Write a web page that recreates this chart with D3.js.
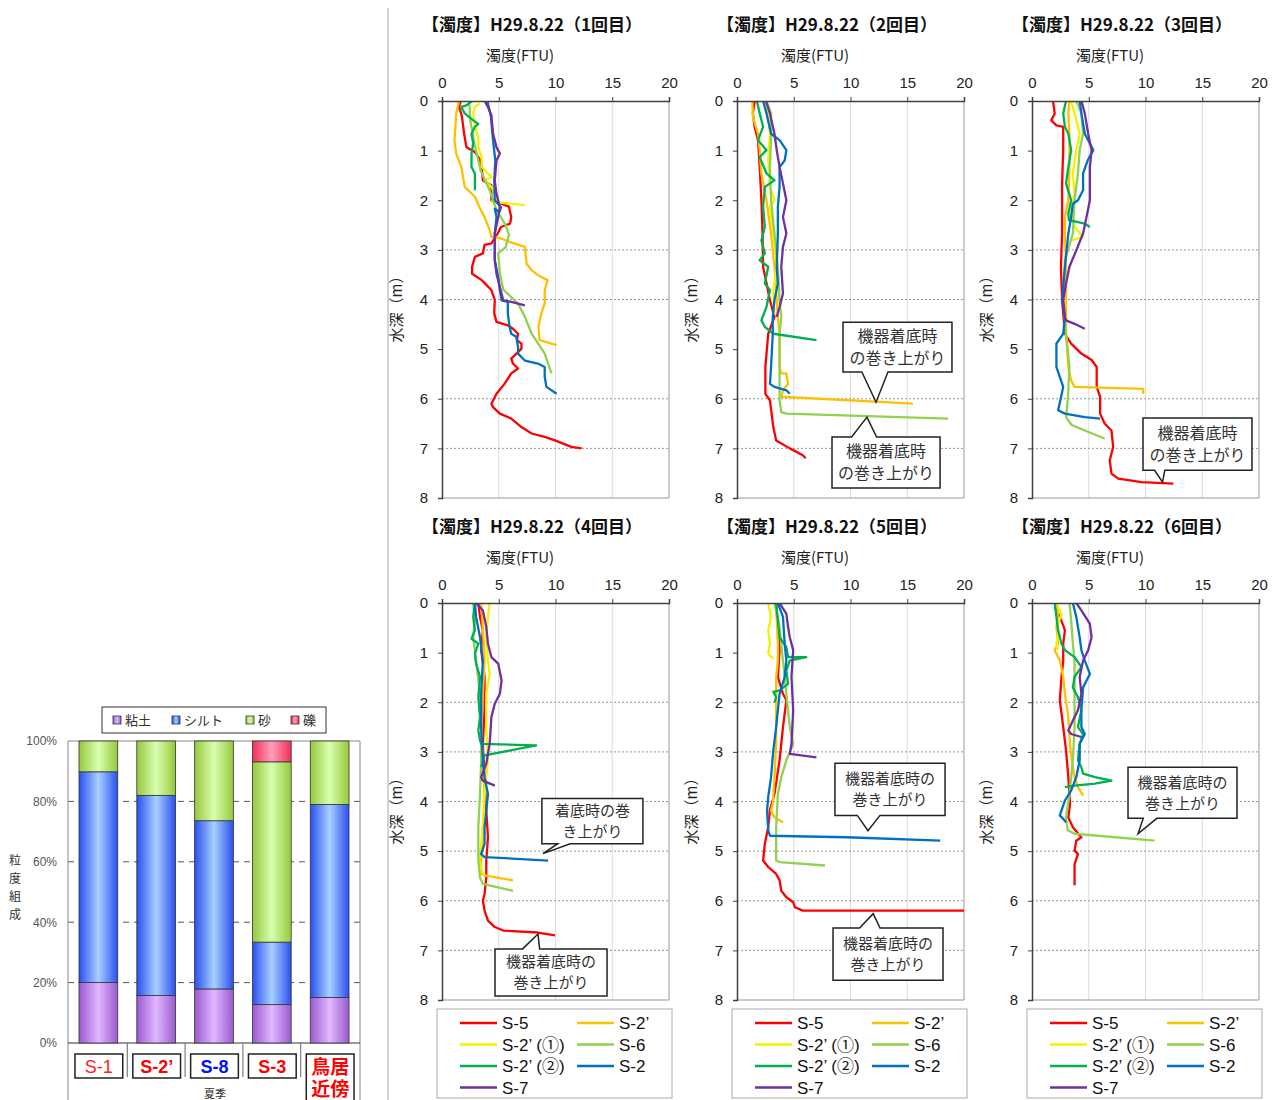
<!DOCTYPE html>
<html lang="ja">
<head>
<meta charset="UTF-8">
<title>濁度鉛直分布と粒度組成</title>
<script src="https://d3js.org/d3.v7.min.js"></script>
<style>
  body { margin: 0; background: #fff; }
  text { font-family: "Liberation Sans", Arial, "Noto Sans CJK JP", sans-serif; }
  .jp { font-family: "Noto Sans CJK JP", sans-serif; }
</style>
</head>
<body>
<div id="chart"></div>
<script>
// ---- grain size composition (left chart) ----
var grainCats = ["S-1", "S-2’", "S-8", "S-3", "鳥居近傍"];
var clay   = [20.0, 15.7, 17.9, 12.7, 15.1];
var silt   = [69.8, 66.3, 55.7, 20.7, 63.9];
var sand   = [10.2, 18.0, 26.4, 59.7, 21.0];
var gravel = [0, 0, 0, 6.9, 0];
var grainNames = ["粘土", "シルト", "砂", "礫"];
var grainTicks = [0, 20, 40, 60, 80, 100];

// ---- turbidity profiles: [turbidity FTU, depth m] ----
var turbTicks = [0, 5, 10, 15, 20];
var depthTicks = [0, 1, 2, 3, 4, 5, 6, 7, 8];
var seriesNames = ["S-5", "S-2’", "S-2’ (①)", "S-6", "S-2’ (②)", "S-2", "S-7"];
var seriesColors = ["#ff0000", "#ffc000", "#f2f200", "#92d050", "#00b050", "#0070c0", "#7030a0"];
var runTitles = ["【濁度】H29.8.22（1回目）", "【濁度】H29.8.22（2回目）", "【濁度】H29.8.22（3回目）",
                 "【濁度】H29.8.22（4回目）", "【濁度】H29.8.22（5回目）", "【濁度】H29.8.22（6回目）"];

// run 1
var r1_S5 = [[1.65,0],[1.5,0.12],[1.75,0.3],[1.95,0.66],[2.15,0.93],[2.9,1.03],[3.3,1.16],[3.5,1.33],[3.6,1.6],[4.35,1.7],[4.35,2.0],[5.2,2.07],[5.9,2.13],[6.1,2.34],[6.0,2.47],[5.2,2.54],[4.9,2.67],[4.35,2.87],[3.75,2.9],[3.6,3.07],[2.9,3.14],[2.65,3.34],[2.65,3.48],[3.5,3.61],[4.35,3.81],[4.65,4.01],[4.6,4.28],[4.8,4.45],[5.8,4.52],[6.25,4.59],[6.7,4.69],[6.6,4.82],[7.0,4.89],[7.0,4.99],[6.7,5.06],[6.1,5.19],[6.25,5.29],[6.7,5.39],[6.1,5.49],[5.5,5.7],[4.8,5.9],[4.35,6.1],[4.5,6.17],[5.1,6.3],[6.1,6.4],[7.0,6.57],[7.9,6.7],[9.05,6.77],[9.95,6.84],[11.4,6.97],[12.3,7.0]];
var r1_S2d = [[1.5,0],[1.25,0.25],[1.1,0.8],[1.25,1.06],[1.7,1.33],[2.0,1.73],[2.9,1.93],[3.3,2.14],[3.75,2.34],[4.2,2.6],[4.35,2.74],[5.2,2.77],[5.95,2.84],[7.3,2.94],[7.45,3.28],[7.9,3.41],[8.45,3.51],[9.3,3.61],[9.05,3.81],[9.05,4.08],[8.75,4.28],[8.5,4.55],[8.6,4.82],[10.1,4.92]];
var r1_S2d1 = [[3.3,0.05],[2.9,0.12],[2.75,0.25],[2.9,0.52],[3.2,0.73],[3.2,0.93],[3.5,1.13],[3.5,1.33],[4.05,1.46],[4.35,1.53],[3.75,1.6],[4.35,1.73],[4.65,1.87],[4.95,2.0],[4.35,2.03],[7.3,2.1]];
var r1_S6 = [[2.4,0],[2.5,0.4],[2.9,0.9],[3.4,1.4],[4.2,1.8],[4.8,2.2],[5.6,2.5],[5.9,2.7],[5.6,2.95],[4.95,3.07],[5.1,3.48],[5.4,3.8],[6.7,4.08],[7.3,4.35],[7.9,4.69],[9.05,5.09],[9.35,5.29],[9.65,5.49]];
var r1_S2d2 = [[2.65,0],[2.15,0.09],[1.7,0.12],[2.0,0.25],[2.75,0.39],[3.2,0.46],[2.9,0.52],[2.6,0.66],[2.75,0.86],[2.6,1.06],[2.6,1.33],[2.9,1.46],[2.9,1.8]];
var r1_S2 = [[4.0,0],[4.3,0.3],[4.5,0.8],[4.7,1.2],[4.6,1.6],[4.65,2.0],[5.2,2.14],[5.05,2.24],[4.65,2.17],[4.8,2.34],[4.65,2.67],[4.65,3.21],[4.95,3.55],[5.1,3.81],[5.25,4.02],[5.8,4.05],[5.8,4.28],[5.95,4.55],[6.1,4.69],[6.55,4.75],[6.7,4.96],[6.7,5.09],[7.3,5.23],[8.45,5.29],[9.05,5.36],[9.05,5.56],[9.2,5.76],[10.1,5.9]];
var r1_S7 = [[3.75,0],[4.05,0.12],[4.35,0.29],[4.5,0.66],[4.8,0.93],[5.1,1.06],[4.8,1.2],[4.65,1.6],[4.8,1.87],[5.1,2.14],[4.95,2.34],[4.65,2.67],[4.65,3.21],[4.8,3.48],[5.1,3.75],[5.4,4.02],[6.1,4.05],[7.3,4.12]];

// run 2
var r2_S5 = [[1.55,0],[1.4,0.25],[1.55,0.52],[1.85,0.79],[2.0,1.33],[2.15,2.0],[2.25,2.67],[2.3,3.34],[2.9,4.01],[3.3,4.35],[2.75,4.69],[2.5,5.36],[2.5,5.9],[2.9,6.03],[3.2,6.57],[3.45,6.84],[4.65,7.0],[5.8,7.14],[6.05,7.2]];
var r2_S2d = [[1.35,0],[1.4,0.32],[1.85,0.66],[2.0,0.99],[2.15,1.46],[2.6,2.0],[3.0,2.67],[3.3,3.34],[3.5,4.01],[3.6,4.35],[3.75,4.69],[3.75,5.36],[3.9,5.49],[4.35,5.49],[4.5,5.7],[4.05,5.83],[3.9,5.96],[15.5,6.1]];
var r2_S2d1 = [[2.45,0],[2.75,0.25],[2.9,0.66],[2.75,1.2],[2.9,1.73],[3.3,2.0],[2.9,2.14],[3.2,2.67],[3.5,3.34],[3.2,3.81],[3.3,4.3]];
var r2_S6 = [[2.6,0],[3.0,0.25],[3.0,0.79],[2.9,1.33],[3.0,2.0],[3.3,2.67],[3.6,3.34],[3.75,4.01],[3.9,4.35],[3.75,4.69],[3.75,5.36],[3.75,6.03],[3.9,6.27],[4.35,6.3],[18.6,6.4]];
var r2_S2d2 = [[1.75,0],[2.0,0.25],[2.3,0.52],[1.85,0.79],[2.6,0.99],[2.0,1.13],[2.6,1.46],[3.3,1.6],[2.45,1.73],[2.3,2.14],[2.45,2.54],[2.15,2.81],[2.45,3.07],[2.0,3.21],[2.75,3.34],[2.45,3.68],[2.9,3.81],[2.6,4.15],[2.15,4.42],[2.45,4.55],[3.2,4.69],[7.0,4.82]];
var r2_S2 = [[2.3,0],[2.6,0.25],[3.0,0.66],[3.75,0.79],[4.35,0.99],[4.2,1.2],[3.75,1.33],[3.75,1.73],[3.6,2.14],[3.6,2.67],[3.5,3.34],[3.6,3.68],[3.3,4.01],[3.15,4.35],[3.15,4.69],[3.0,5.36],[2.9,5.7],[3.3,5.76],[4.35,5.83],[4.65,5.9]];
var r2_S7 = [[2.55,0],[2.9,0.25],[3.3,0.66],[3.5,0.99],[3.75,1.33],[4.05,1.66],[4.35,2.0],[4.05,2.34],[4.35,2.67],[4.05,2.94],[3.9,3.34],[4.05,3.88],[3.75,4.15],[3.5,4.35]];

// run 3
var r3_S5 = [[1.85,0],[2.0,0.25],[1.7,0.39],[2.15,0.49],[2.75,0.52],[2.75,0.99],[2.65,1.66],[2.65,2.67],[2.55,3.34],[2.65,4.01],[2.9,4.69],[3.45,4.89],[4.35,5.09],[5.25,5.22],[5.7,5.36],[5.7,5.76],[6.0,5.96],[6.0,6.3],[6.4,6.5],[7.0,6.64],[7.15,6.97],[6.85,7.24],[7.0,7.51],[7.6,7.61],[9.65,7.68],[12.45,7.71]];
var r3_S2d = [[3.3,0],[3.2,0.25],[3.3,0.66],[3.3,1.33],[3.2,2.0],[2.9,2.34],[2.9,2.67],[3.0,3.34],[3.0,4.01],[3.0,4.69],[3.2,5.36],[3.45,5.63],[3.75,5.76],[9.8,5.8],[9.8,5.9]];
var r3_S2d1 = [[3.45,0],[3.75,0.25],[4.2,0.66],[3.9,0.99],[3.6,1.46],[3.75,1.87],[3.45,2.27],[3.75,2.54],[4.5,2.74],[3.45,2.81]];
var r3_S6 = [[3.9,0],[4.35,0.25],[4.5,0.66],[4.2,0.99],[4.05,1.46],[3.75,2.0],[3.6,2.67],[2.9,3.21],[2.75,4.01],[3.0,4.69],[3.3,5.36],[3.15,6.03],[3.0,6.37],[3.5,6.53],[4.65,6.64],[6.4,6.8]];
var r3_S2d2 = [[3.0,0],[2.75,0.25],[2.9,0.52],[3.2,0.66],[3.45,0.99],[3.2,1.33],[3.0,1.66],[3.45,2.0],[3.2,2.27],[3.25,2.4],[4.65,2.47],[5.1,2.54]];
var r3_S2 = [[4.2,0],[4.35,0.25],[4.65,0.66],[5.4,0.99],[4.9,1.2],[4.5,1.46],[4.5,1.8],[4.05,2.0],[3.6,2.07],[3.45,2.34],[3.2,2.67],[2.9,3.34],[2.65,4.01],[2.9,4.35],[2.75,4.69],[2.15,4.89],[2.15,5.36],[2.75,5.76],[2.5,6.03],[2.3,6.23],[2.9,6.3],[4.65,6.37],[6.0,6.4]];
var r3_S7 = [[4.35,0],[4.65,0.25],[4.95,0.66],[5.25,0.99],[5.1,1.33],[5.1,2.0],[4.8,2.34],[4.5,2.67],[3.9,3.01],[3.3,3.34],[3.0,3.68],[2.75,4.01],[2.9,4.35],[3.0,4.42],[3.75,4.49],[4.65,4.59]];

// run 4
var r4_S5 = [[3.2,0],[3.35,0.28],[3.6,0.55],[3.45,0.95],[3.75,1.49],[3.75,2.16],[3.6,2.84],[3.75,3.51],[3.9,4.18],[4.05,4.72],[3.9,5.19],[3.9,5.53],[3.75,5.86],[3.6,6.0],[3.75,6.2],[4.05,6.4],[4.65,6.53],[5.4,6.6],[8.45,6.64],[9.95,6.7]];
var r4_S2d = [[3.45,0],[3.6,0.48],[3.75,1.16],[3.6,1.83],[3.45,2.5],[3.6,3.17],[3.75,3.85],[3.6,4.52],[3.45,5.19],[3.45,5.46],[3.75,5.49],[6.25,5.59]];
var r4_S2d1 = [[4.2,0],[4.05,0.28],[3.9,0.69],[4.05,1.16],[4.2,1.43],[3.9,1.83],[3.9,2.5],[4.05,3.17],[3.75,3.85],[3.6,4.52],[3.45,4.85],[3.3,5.19],[3.45,5.39],[3.75,5.49]];
var r4_S6 = [[2.75,0],[2.9,0.35],[2.75,0.69],[3.0,1.16],[3.35,1.83],[3.45,2.5],[3.45,3.17],[3.35,3.85],[3.2,4.52],[3.2,5.19],[3.35,5.53],[3.6,5.66],[6.25,5.8]];
var r4_S2d2 = [[2.9,0],[2.75,0.28],[2.9,0.55],[2.6,0.72],[3.2,0.82],[2.9,1.02],[3.0,1.22],[3.35,1.49],[3.2,1.9],[3.35,2.3],[3.2,2.57],[3.35,2.77],[3.45,2.84],[8.3,2.87],[3.75,3.07],[3.45,3.31]];
var r4_S2 = [[2.9,0],[3.0,0.28],[3.35,0.69],[3.6,1.16],[3.45,1.83],[3.45,2.5],[3.6,3.17],[3.75,3.51],[4.05,3.85],[3.75,4.52],[3.75,4.85],[3.45,5.06],[3.75,5.12],[9.35,5.19]];
var r4_S7 = [[3.0,0],[3.6,0.15],[3.9,0.48],[4.05,0.82],[4.35,1.09],[4.95,1.22],[5.25,1.56],[5.1,1.83],[4.65,2.03],[4.35,2.3],[4.2,2.84],[3.9,3.24],[3.45,3.51],[3.6,3.58],[4.65,3.68]];

// run 5
var r5_S5 = [[3.45,0],[3.6,0.48],[3.75,0.95],[3.6,1.49],[4.05,1.83],[4.35,1.96],[4.05,2.5],[3.75,3.17],[3.3,3.85],[2.9,4.18],[2.75,4.52],[2.45,4.85],[2.3,5.19],[2.75,5.32],[3.45,5.46],[3.75,5.59],[3.9,5.8],[4.35,5.93],[4.95,6.03],[5.1,6.13],[5.8,6.2],[20,6.2]];
var r5_S2d = [[3.45,0.08],[3.6,0.82],[3.6,1.16],[3.45,1.49],[3.45,2.16],[3.45,2.84],[3.3,3.51],[3.15,4.05],[3.0,4.18],[3.3,4.32],[4.05,4.42]];
var r5_S2d1 = [[2.75,0],[3.0,0.28],[2.75,0.55],[2.9,0.82],[2.75,1.02],[3.2,1.12]];
var r5_S6 = [[3.3,0],[3.75,0.48],[4.05,1.16],[4.35,1.83],[4.65,2.5],[4.95,2.84],[4.35,3.17],[3.9,3.51],[3.6,3.85],[3.45,4.52],[3.45,5.19],[3.75,5.22],[7.75,5.29]];
var r5_S2d2 = [[3.45,0],[3.6,0.35],[3.75,0.69],[4.35,0.89],[4.5,1.09],[6.1,1.09],[4.65,1.16],[4.35,1.36],[4.5,1.63],[3.75,1.76],[3.2,1.79],[3.45,1.9],[3.3,2.0]];
var r5_S2 = [[3.6,0],[4.05,0.28],[4.2,0.82],[4.35,1.16],[4.2,1.49],[3.75,1.83],[3.6,2.16],[3.45,2.5],[3.2,2.97],[3.0,3.51],[2.75,3.91],[2.65,4.18],[2.75,4.58],[2.9,4.69],[9.65,4.72],[17.9,4.79]];
var r5_S7 = [[3.75,0],[4.35,0.22],[4.5,0.48],[4.65,0.69],[4.95,0.95],[4.8,1.49],[4.95,2.16],[4.8,2.84],[4.65,3.04],[7.0,3.11]];

// run 6
var r6_S5 = [[2.0,0.08],[2.15,0.15],[2.45,0.28],[2.75,0.45],[2.9,0.55],[2.75,0.82],[2.75,1.16],[2.6,1.49],[2.45,1.96],[2.75,2.5],[3.0,2.97],[3.2,3.51],[3.35,4.05],[3.2,4.32],[3.6,4.52],[4.35,4.72],[3.9,4.79],[3.75,4.99],[4.05,5.06],[3.75,5.26],[3.75,5.69]];
var r6_S2d = [[2.15,0],[2.3,0.22],[2.15,0.48],[2.3,0.82],[2.0,0.95],[2.45,1.16],[2.75,1.49],[2.9,1.83],[3.2,2.3],[3.35,2.84],[3.5,3.17],[3.75,3.51],[4.05,3.71],[4.5,3.88]];
var r6_S2d1 = [[2.15,0],[2.6,0.22],[2.3,0.42],[2.3,0.62],[2.15,0.82],[2.3,0.95]];
var r6_S6 = [[3.3,0],[3.45,0.35],[3.6,0.82],[3.75,1.16],[3.75,1.83],[3.75,2.5],[3.6,3.17],[3.3,3.85],[3.0,4.32],[3.15,4.58],[3.75,4.65],[10.8,4.79]];
var r6_S2d2 = [[2.0,0],[2.15,0.28],[2.3,0.55],[2.6,0.82],[2.9,0.95],[3.75,1.09],[4.35,1.29],[3.75,1.49],[3.6,1.7],[4.05,1.9],[4.35,2.16],[4.05,2.5],[4.5,2.64],[4.2,2.84],[4.05,3.17],[4.35,3.31],[4.5,3.44],[5.55,3.51],[7.0,3.58],[5.55,3.64],[3.75,3.68],[2.9,3.71]];
var r6_S2 = [[3.6,0],[3.9,0.28],[4.2,0.69],[4.35,0.95],[4.65,1.16],[5.1,1.43],[4.5,1.7],[4.35,2.16],[4.35,2.5],[4.65,2.64],[4.2,2.84],[4.2,3.17],[3.9,3.51],[3.45,3.78],[2.9,3.98],[2.6,4.18],[2.45,4.28],[2.75,4.35],[3.0,4.42]];
var r6_S7 = [[3.9,0],[4.35,0.15],[5.1,0.42],[5.25,0.69],[4.95,0.95],[4.5,1.16],[4.2,1.49],[4.35,1.83],[4.05,2.16],[3.6,2.37],[3.2,2.57],[3.45,2.64],[4.35,2.7]];

// callouts, in data units: box [x0,d0,x1,d1], pointer base [xa,xb], tip [x,d]
var r2_notes = [
  {box: [9.34, 4.46, 18.94, 5.46], side: "bottom", base: [11.0, 13.3], tip: [12.25, 6.07], text: ["機器着底時", "の巻き上がり"]},
  {box: [8.37, 6.77, 17.89, 7.80], side: "top", base: [10.1, 12.3], tip: [11.45, 6.37], text: ["機器着底時", "の巻き上がり"]}
];
var r3_notes = [
  {box: [9.78, 6.39, 19.38, 7.44], side: "bottom", base: [10.8, 11.7], tip: [11.5, 7.68], text: ["機器着底時", "の巻き上がり"]}
];
var r4_notes = [
  {box: [8.8, 3.94, 17.7, 4.85], side: "bottom", base: [10.2, 11.3], tip: [8.9, 5.05], text: ["着底時の巻", "き上がり"]},
  {box: [4.67, 6.97, 14.54, 7.92], side: "top", base: [7.1, 8.6], tip: [8.46, 6.67], text: ["機器着底時の", "巻き上がり"]}
];
var r5_notes = [
  {box: [8.63, 3.23, 18.33, 4.28], side: "bottom", base: [10.6, 12.6], tip: [11.54, 4.59], text: ["機器着底時の", "巻き上がり"]},
  {box: [8.46, 6.55, 18.15, 7.6], side: "top", base: [10.8, 12.6], tip: [12.0, 6.26], text: ["機器着底時の", "巻き上がり"]}
];
var r6_notes = [
  {box: [8.46, 3.31, 18.06, 4.34], side: "bottom", base: [9.8, 11.0], tip: [9.34, 4.65], text: ["機器着底時の", "巻き上がり"]}
];

var runLines = [
  [r1_S5, r1_S2d, r1_S2d1, r1_S6, r1_S2d2, r1_S2, r1_S7],
  [r2_S5, r2_S2d, r2_S2d1, r2_S6, r2_S2d2, r2_S2, r2_S7],
  [r3_S5, r3_S2d, r3_S2d1, r3_S6, r3_S2d2, r3_S2, r3_S7],
  [r4_S5, r4_S2d, r4_S2d1, r4_S6, r4_S2d2, r4_S2, r4_S7],
  [r5_S5, r5_S2d, r5_S2d1, r5_S6, r5_S2d2, r5_S2, r5_S7],
  [r6_S5, r6_S2d, r6_S2d1, r6_S6, r6_S2d2, r6_S2, r6_S7]
];
var runNotes = [[], r2_notes, r3_notes, r4_notes, r5_notes, r6_notes];
var runGrid = [[3,4,6,7], [3,4,6,7], [3,4,6,7], [2,3,4,5,6,7], [2,3,4,5,6,7], [2,3,4,5,6,7]];

var width = 1275, height = 1100;
var svg = d3.select("#chart").append("svg")
    .attr("width", width)
    .attr("height", height);

// separator between the two figures
svg.append("line")
    .attr("x1", 388).attr("x2", 388).attr("y1", 8).attr("y2", height)
    .attr("stroke", "#aaa").attr("stroke-width", 1);

function calloutPath(x0, y0, x1, y1, side, b0, b1, tx, ty) {
    if (side === "bottom")
        return "M" + x0 + "," + y0 + "H" + x1 + "V" + y1 + "H" + b1 + "L" + tx + "," + ty + "L" + b0 + "," + y1 + "H" + x0 + "Z";
    return "M" + x0 + "," + y0 + "H" + b0 + "L" + tx + "," + ty + "L" + b1 + "," + y0 + "H" + x1 + "V" + y1 + "H" + x0 + "Z";
}

var panelLeft = [442, 737, 1032], panelTop = [101, 603];
var pw = 227, ph = 397;

function drawPanel(i) {
    var px = panelLeft[i % 3], py = panelTop[Math.floor(i / 3)];
    var g = svg.append("g").attr("transform", "translate(" + px + "," + py + ")");

    var xScale = d3.scaleLinear().domain([0, 20]).range([0, pw]);
    var yScale = d3.scaleLinear().domain([0, 8]).range([0, ph]);

    g.append("clipPath").attr("id", "clip" + i)
        .append("rect").attr("width", pw).attr("height", ph);

    // grid
    g.selectAll(".vgrid").data(turbTicks.slice(1, -1)).enter().append("line")
        .attr("x1", function(d) { return xScale(d); }).attr("x2", function(d) { return xScale(d); })
        .attr("y1", 0).attr("y2", ph)
        .attr("stroke", "#dcdcdc").attr("stroke-width", 1);
    g.selectAll(".hgrid").data(runGrid[i]).enter().append("line")
        .attr("x1", 0).attr("x2", pw)
        .attr("y1", function(d) { return yScale(d); }).attr("y2", function(d) { return yScale(d); })
        .attr("stroke", "#999").attr("stroke-width", 1).attr("stroke-dasharray", "2,2");

    // frame: right and bottom
    g.append("line").attr("x1", pw).attr("x2", pw).attr("y1", 0).attr("y2", ph)
        .attr("stroke", "#999");
    g.append("line").attr("x1", 0).attr("x2", pw).attr("y1", ph).attr("y2", ph)
        .attr("stroke", "#999");

    // lines
    var line = d3.line().x(function(d) { return xScale(d[0]); }).y(function(d) { return yScale(d[1]); });
    g.append("g").attr("clip-path", "url(#clip" + i + ")")
        .selectAll("path").data(runLines[i]).enter().append("path")
        .attr("d", line)
        .attr("fill", "none")
        .attr("stroke", function(d, k) { return seriesColors[k]; })
        .attr("stroke-width", 2.3)
        .attr("stroke-linejoin", "round");

    // axes
    var xAxis = d3.axisTop(xScale).tickValues(turbTicks).tickSize(4).tickPadding(9);
    var yAxis = d3.axisLeft(yScale).tickValues(depthTicks).tickSize(4).tickPadding(10);
    var gx = g.append("g").call(xAxis);
    var gy = g.append("g").call(yAxis);
    [gx, gy].forEach(function(a) {
        a.select(".domain").attr("stroke", "#404040").attr("stroke-width", 1.5);
        a.selectAll(".tick line").attr("stroke", "#404040");
        a.selectAll(".tick text").attr("font-size", 15).attr("fill", "#222")
            .style("font-family", "'Liberation Sans', Arial, sans-serif");
    });

    // titles
    g.append("text").attr("class", "jp")
        .attr("x", 90).attr("y", -70)
        .attr("text-anchor", "middle")
        .attr("font-size", 17).attr("font-weight", "bold").attr("fill", "#111")
        .text(runTitles[i]);
    g.append("text").attr("class", "jp")
        .attr("x", 78).attr("y", -40)
        .attr("text-anchor", "middle")
        .attr("font-size", 15).attr("fill", "#222")
        .text("濁度(FTU)");
    g.append("text").attr("class", "jp")
        .attr("transform", "translate(-40," + (ph / 2 + 6) + ") rotate(-90)")
        .attr("text-anchor", "middle")
        .attr("font-size", 15).attr("fill", "#222")
        .text("水深（m）");

    // callouts
    runNotes[i].forEach(function(n) {
        var x0 = xScale(n.box[0]), y0 = yScale(n.box[1]), x1 = xScale(n.box[2]), y1 = yScale(n.box[3]);
        g.append("path")
            .attr("d", calloutPath(x0, y0, x1, y1, n.side, xScale(n.base[0]), xScale(n.base[1]), xScale(n.tip[0]), yScale(n.tip[1])))
            .attr("fill", "#fff").attr("stroke", "#222").attr("stroke-width", 1.5);
        var fs = i < 3 ? 16 : 15;
        var cx = (x0 + x1) / 2, cy = (y0 + y1) / 2;
        n.text.forEach(function(t, k) {
            g.append("text").attr("class", "jp")
                .attr("x", cx).attr("y", cy + (k - 0.5) * (fs + 6) + fs * 0.36)
                .attr("text-anchor", "middle")
                .attr("font-size", fs).attr("fill", "#333")
                .text(t);
        });
    });

    // legend under bottom row
    if (i >= 3) {
        var lg = g.append("g").attr("transform", "translate(-5," + (ph + 9) + ")");
        lg.append("rect").attr("width", 235).attr("height", 89)
            .attr("fill", "#fff").attr("stroke", "#aaa");
        seriesNames.forEach(function(name, k) {
            var col = k % 2, row = Math.floor(k / 2);
            var lx = col === 0 ? 23 : 140, ly = 14 + row * 21.5;
            lg.append("line").attr("x1", lx).attr("x2", lx + 37).attr("y1", ly).attr("y2", ly)
                .attr("stroke", seriesColors[k]).attr("stroke-width", 2.5);
            lg.append("text").attr("x", lx + 42).attr("y", ly + 6)
                .attr("font-size", 17).attr("fill", "#111")
                .text(name);
        });
    }
}

for (var i = 0; i < 6; i++) drawPanel(i);

// ---- grain size stacked bars ----
var defs = svg.append("defs");
var grainColors = [["#9b59d0", "#e0b8ff"], ["#2a4ff0", "#a8d0ff"], ["#96c83c", "#d8ffb0"], ["#f0305a", "#ffa0b8"]];
grainColors.forEach(function(c, k) {
    var gr = defs.append("linearGradient").attr("id", "grain" + k)
        .attr("x1", "0%").attr("x2", "100%").attr("y1", "0%").attr("y2", "0%");
    gr.append("stop").attr("offset", "0%").attr("stop-color", c[0]);
    gr.append("stop").attr("offset", "50%").attr("stop-color", c[1]);
    gr.append("stop").attr("offset", "100%").attr("stop-color", c[0]);
});

var gLeft = 68, gRight = 360, gTop = 741, gBottom = 1043;
var xBand = d3.scaleBand().domain(grainCats).range([gLeft, gRight])
    .paddingInner(0.33).paddingOuter(0.19);
var yPct = d3.scaleLinear().domain([0, 100]).range([gBottom, gTop]);

var grainRows = grainCats.map(function(c, k) {
    return {cat: c, clay: clay[k], silt: silt[k], sand: sand[k], gravel: gravel[k]};
});
var stacked = d3.stack().keys(["clay", "silt", "sand", "gravel"])(grainRows);

// grid
svg.selectAll(".pgrid").data(grainTicks.slice(1, -1)).enter().append("line")
    .attr("x1", gLeft).attr("x2", gRight)
    .attr("y1", function(d) { return yPct(d); }).attr("y2", function(d) { return yPct(d); })
    .attr("stroke", "#555").attr("stroke-dasharray", "6,5");

// frame
svg.append("line").attr("x1", gLeft).attr("x2", gLeft).attr("y1", gTop).attr("y2", height).attr("stroke", "#888");
svg.append("line").attr("x1", gRight).attr("x2", gRight).attr("y1", gTop).attr("y2", height).attr("stroke", "#888");
svg.append("line").attr("x1", gLeft).attr("x2", gRight).attr("y1", gTop).attr("y2", gTop).attr("stroke", "#888");
svg.append("line").attr("x1", gLeft).attr("x2", gRight).attr("y1", gBottom).attr("y2", gBottom).attr("stroke", "#333");

svg.selectAll(".layer").data(stacked).enter().append("g")
    .attr("fill", function(d, k) { return "url(#grain" + k + ")"; })
    .selectAll("rect").data(function(d) { return d; }).enter().append("rect")
    .attr("x", function(d) { return xBand(d.data.cat); })
    .attr("width", xBand.bandwidth())
    .attr("y", function(d) { return yPct(d[1]); })
    .attr("height", function(d) { return yPct(d[0]) - yPct(d[1]); })
    .attr("stroke", "#333").attr("stroke-width", 0.8);

// y ticks
var pAxis = d3.axisLeft(yPct).tickValues(grainTicks).tickSize(0).tickPadding(11)
    .tickFormat(function(d) { return d + "%"; });
var gp = svg.append("g").attr("transform", "translate(" + gLeft + ",0)").call(pAxis);
gp.select(".domain").remove();
gp.selectAll(".tick text").attr("font-size", 12).attr("fill", "#555");

// y title, stacked vertically
["粒", "度", "組", "成"].forEach(function(ch, k) {
    svg.append("text").attr("class", "jp")
        .attr("x", 15).attr("y", 865 + k * 18)
        .attr("text-anchor", "middle").attr("font-size", 12).attr("fill", "#333")
        .text(ch);
});

// category separators
xBand.domain().slice(1).forEach(function(c) {
    var sx = xBand(c) - xBand.step() * xBand.paddingInner() / 2;
    svg.append("line").attr("x1", sx).attr("x2", sx).attr("y1", gBottom).attr("y2", 1077)
        .attr("stroke", "#666");
});

// category labels in boxes
var catColors = ["#ff2020", "#ff0000", "#0010ff", "#ff0000", "#ff0000"];
var catWeight = ["normal", "bold", "bold", "bold", "bold"];
grainCats.forEach(function(c, k) {
    var bx = xBand(c) - 4, bw = xBand.bandwidth() + 9;
    var tall = /[^\x00-\x7f’]/.test(c);
    svg.append("rect").attr("x", bx).attr("y", 1054)
        .attr("width", bw).attr("height", tall ? 60 : 24)
        .attr("fill", "#fff").attr("stroke", "#222").attr("stroke-width", 1.5);
    var lines = tall ? [c.slice(0, 2), c.slice(2)] : [c];
    var txt = svg.append("text").attr("class", tall ? "jp" : null)
        .attr("x", bx + bw / 2).attr("y", tall ? 1074 : 1073)
        .attr("text-anchor", "middle")
        .attr("font-size", tall ? 19 : 18)
        .attr("font-weight", catWeight[k])
        .attr("fill", catColors[k]);
    lines.forEach(function(t, j) {
        txt.append("tspan").attr("x", bx + bw / 2).attr("dy", j === 0 ? 0 : 22).text(t);
    });
});
svg.append("text").attr("class", "jp")
    .attr("x", 215).attr("y", 1098).attr("text-anchor", "middle")
    .attr("font-size", 11).attr("fill", "#333").text("夏季");

// legend of grain chart
var gl = svg.append("g").attr("transform", "translate(102,707)");
gl.append("rect").attr("width", 224).attr("height", 26).attr("fill", "#fff").attr("stroke", "#333");
var legX = [11, 70, 144, 189];
grainNames.forEach(function(nm, k) {
    gl.append("rect").attr("x", legX[k]).attr("y", 9).attr("width", 8).attr("height", 8)
        .attr("fill", "url(#grain" + k + ")").attr("stroke", "#333").attr("stroke-width", 0.8);
    gl.append("text").attr("class", "jp").attr("x", legX[k] + 12).attr("y", 18)
        .attr("font-size", 13).attr("fill", "#333").text(nm);
});
</script>
</body>
</html>
